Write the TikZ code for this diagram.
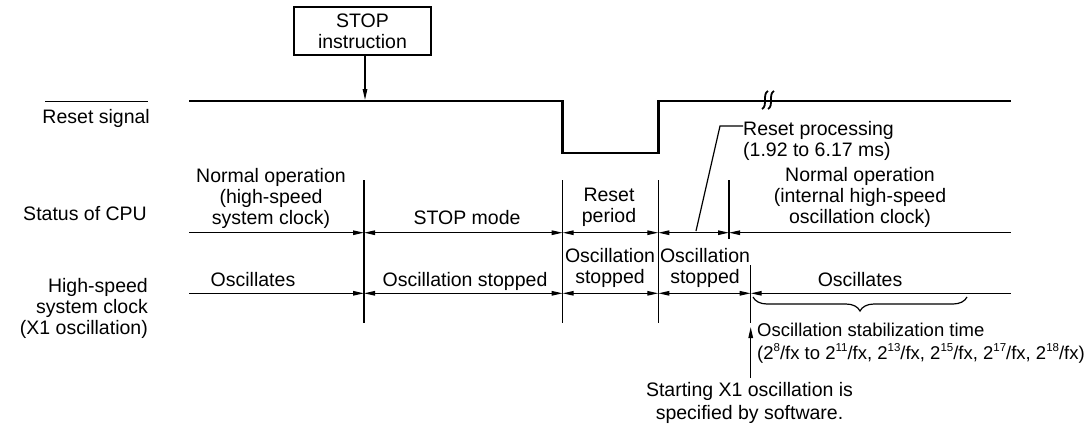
\documentclass[tikz,border=0pt]{standalone}
\usepackage{fontspec}
\setmainfont{Liberation Sans}
\usetikzlibrary{arrows.meta,decorations.pathreplacing,positioning,calc}
\newcommand{\supnum}[1]{\raisebox{0.45em}{\fontsize{11.5}{12}\selectfont #1}}

\begin{document}
\begin{tikzpicture}[
  x=1pt, y=-1pt,
  txt/.style={font=\fontsize{19.5}{21}\selectfont, inner sep=0pt, align=center},
  lbl/.style={txt, align=right, anchor=east},
  thin/.style={line width=1.2pt, black},
  sig/.style={line width=2.8pt, black},
  dimr/.style={thin, -{Triangle[length=11pt, width=4.5pt]}},
  diml/.style={thin, {Triangle[length=11pt, width=4.5pt]}-},
  dimb/.style={thin, {Triangle[length=11pt, width=4.5pt]}-{Triangle[length=11pt, width=4.5pt]}},
]
  \useasboundingbox (0,0) rectangle (1091,429);

  % Row labels
  \node[lbl] (rstlbl) at (150,118) {Reset signal};
  \draw[thin] ($(rstlbl.north west)+(3,-7)$) -- ($(rstlbl.north east)+(-2,-7)$);
  \node[lbl] (cpulbl) at (147,213.5) {Status of CPU};
  \node[lbl] (clklbl) at (148,308.5) {High-speed\\system clock\\(X1 oscillation)};

  % Reset signal waveform
  \coordinate (r0) at (189,101);
  \coordinate (r1) at (562.5,101);
  \coordinate (r2) at (562.5,153);
  \coordinate (r3) at (658.3,153);
  \coordinate (r4) at (658.3,101);
  \coordinate (r5) at (1011,101);
  \draw[sig] (r0) -- (r1) -- (r2) -- (r3) -- (r4) -- (r5);
  % break mark
  \foreach \bx in {765,771}
    \draw[line width=1.8pt] (\bx+3,91) .. controls (\bx-3,94) and (\bx+3,106) .. (\bx-3,109);

  % STOP instruction
  \node[draw, thin, txt, minimum width=137, minimum height=48] (stop) at (362.5,31) {STOP\\instruction};
  \coordinate (stopat) at (365,100);
  \draw[thin, -{Triangle[length=11pt, width=4.5pt]}] (stop.south -| stopat) -- (stopat);

  % Boundaries
  \coordinate (b1t) at (364,180);   \coordinate (b1b) at (364,323);
  \coordinate (b2t) at (562.7,180); \coordinate (b2b) at (562.7,323);
  \coordinate (b3t) at (658.3,180); \coordinate (b3b) at (658.3,323);
  \coordinate (b4t) at (729,180);   \coordinate (b4b) at (729,239);
  \coordinate (b5t) at (750.7,265); \coordinate (b5b) at (750.7,323);
  \foreach \b in {1,...,5}
    \draw[thin] (b\b t) -- (b\b b);

  % Status of CPU row
  \coordinate (c0) at (189,232.7);
  \coordinate (c1) at (364,232.7);
  \coordinate (c2) at (562.7,232.7);
  \coordinate (c3) at (658.3,232.7);
  \coordinate (c4) at (729,232.7);
  \coordinate (c5) at (1011,232.7);
  \draw[dimr] (c0) -- (c1);
  \draw[dimb] (c1) -- (c2);
  \draw[dimb] (c2) -- (c3);
  \draw[dimb] (c3) -- (c4);
  \draw[diml] (c4) -- (c5);

  \node[txt] (norm1) at (271,198.5) {Normal operation\\(high-speed\\system clock)};
  \node[txt] (stopm) at (467,218) {STOP mode};
  \node[txt] (rstp) at (609,207.5) {Reset\\period};
  \node[txt] (norm2) at (860,197.5) {Normal operation\\(internal high-speed\\oscillation clock)};

  % Reset processing
  \node[txt, align=left, anchor=west] (rproc) at (743,141) {Reset processing\\(1.92 to 6.17 ms)};
  \coordinate (rpa) at (696,231);
  \coordinate (rpb) at (720,126);
  \draw[thin] (rpa) -- (rpb) -- (rpb -| rproc.west);

  % High-speed system clock row
  \coordinate (k0) at (189,293.3);
  \coordinate (k1) at (364,293.3);
  \coordinate (k2) at (562.7,293.3);
  \coordinate (k3) at (658.3,293.3);
  \coordinate (k4) at (750.7,293.3);
  \coordinate (k5) at (1011,293.3);
  \draw[dimr] (k0) -- (k1);
  \draw[dimb] (k1) -- (k2);
  \draw[dimb] (k2) -- (k3);
  \draw[dimb] (k3) -- (k4);
  \draw[diml] (k4) -- (k5);

  \node[txt] (osc1) at (253,279.5) {Oscillates};
  \node[txt] (oscs1) at (465,281.5) {Oscillation stopped};
  \node[txt] (oscs2) at (610,268) {Oscillation\\stopped};
  \node[txt] (oscs3) at (705,268) {Oscillation\\stopped};
  \node[txt] (osc2) at (860,280) {Oscillates};

  % Stabilization time
  \coordinate (bra) at (753,297);
  \coordinate (brb) at (967,297);
  \draw[thin, decorate, decoration={brace, mirror, amplitude=14pt}] (bra) -- (brb);
  \node[txt, font=\fontsize{18.5}{21}\selectfont, align=left, anchor=west] (stab) at (757,343.5)
    {Oscillation stabilization time\\[2pt]
     (2\supnum{8}/fx to 2\supnum{11}/fx, 2\supnum{13}/fx, 2\supnum{15}/fx, 2\supnum{17}/fx, 2\supnum{18}/fx)};

  % Software start
  \node[txt] (swst) at (749.5,403) {Starting X1 oscillation is\\[2pt]specified by software.};
  \coordinate (swtip) at (750.7,327);
  \draw[thin, -{Triangle[length=11pt, width=4.5pt]}] (swst.north -| swtip) ++(0,-4) -- (swtip);
\end{tikzpicture}
\end{document}
